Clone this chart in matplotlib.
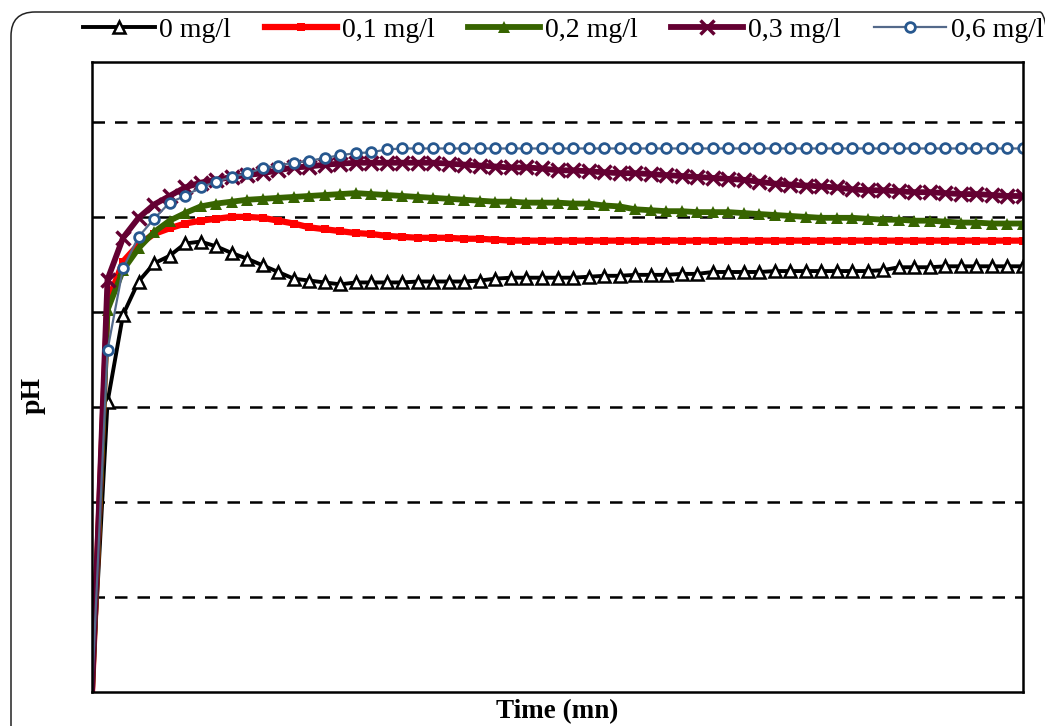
import matplotlib
matplotlib.use("Agg")
import matplotlib.pyplot as plt
from matplotlib.patches import FancyBboxPatch
from matplotlib.transforms import IdentityTransform

# ---- data (time in minutes, pH) ----
time_mn = list(range(0, 61))

ph_0 = [4.00, 7.05, 7.97, 8.32, 8.51, 8.59, 8.72, 8.74, 8.69, 8.62,
        8.56, 8.49, 8.42, 8.35, 8.33, 8.31, 8.29, 8.31, 8.31, 8.31,
        8.31, 8.32, 8.32, 8.32, 8.32, 8.33, 8.35, 8.36, 8.36, 8.36,
        8.36, 8.36, 8.37, 8.38, 8.38, 8.39, 8.39, 8.39, 8.40, 8.40,
        8.42, 8.42, 8.42, 8.42, 8.43, 8.43, 8.43, 8.43, 8.43, 8.43,
        8.43, 8.44, 8.47, 8.47, 8.47, 8.48, 8.48, 8.48, 8.48, 8.48, 8.48]

ph_01 = [4.00, 8.10, 8.53, 8.71, 8.82, 8.88, 8.93, 8.96, 8.98, 9.00,
         9.00, 8.99, 8.96, 8.93, 8.89, 8.87, 8.85, 8.83, 8.82, 8.80,
         8.79, 8.78, 8.78, 8.78, 8.77, 8.77, 8.76, 8.75, 8.75, 8.75,
         8.75, 8.75, 8.75, 8.75, 8.75, 8.75, 8.75, 8.75, 8.75, 8.75,
         8.75, 8.75, 8.75, 8.75, 8.75, 8.75, 8.75, 8.75, 8.75, 8.75,
         8.75, 8.75, 8.75, 8.75, 8.75, 8.75, 8.75, 8.75, 8.75, 8.75, 8.75]

ph_02 = [4.00, 8.02, 8.44, 8.67, 8.84, 8.96, 9.04, 9.11, 9.14, 9.16,
         9.18, 9.19, 9.20, 9.21, 9.22, 9.23, 9.24, 9.25, 9.24, 9.23,
         9.22, 9.21, 9.20, 9.19, 9.18, 9.17, 9.16, 9.16, 9.15, 9.15,
         9.15, 9.14, 9.14, 9.12, 9.11, 9.08, 9.07, 9.06, 9.06, 9.05,
         9.05, 9.05, 9.04, 9.03, 9.02, 9.01, 9.00, 8.99, 8.99, 8.99,
         8.98, 8.97, 8.97, 8.96, 8.96, 8.95, 8.94, 8.94, 8.93, 8.93, 8.93]

ph_03 = [4.00, 8.34, 8.78, 8.99, 9.13, 9.22, 9.31, 9.36, 9.39, 9.42,
         9.44, 9.46, 9.49, 9.52, 9.53, 9.55, 9.56, 9.57, 9.57, 9.57,
         9.57, 9.57, 9.57, 9.56, 9.55, 9.54, 9.53, 9.52, 9.52, 9.51,
         9.49, 9.49, 9.48, 9.47, 9.46, 9.46, 9.45, 9.44, 9.43, 9.42,
         9.41, 9.40, 9.39, 9.37, 9.35, 9.34, 9.33, 9.32, 9.31, 9.29,
         9.28, 9.28, 9.27, 9.26, 9.26, 9.25, 9.24, 9.24, 9.23, 9.22, 9.22]

ph_06 = [4.00, 7.60, 8.46, 8.79, 8.98, 9.15, 9.22, 9.31, 9.37, 9.42,
         9.46, 9.51, 9.54, 9.57, 9.59, 9.62, 9.65, 9.67, 9.68, 9.71,
         9.72, 9.72, 9.72, 9.72, 9.72, 9.72, 9.72, 9.72, 9.72, 9.72,
         9.72, 9.72, 9.72, 9.72, 9.72, 9.72, 9.72, 9.72, 9.72, 9.72,
         9.72, 9.72, 9.72, 9.72, 9.72, 9.72, 9.72, 9.72, 9.72, 9.72,
         9.72, 9.72, 9.72, 9.72, 9.72, 9.72, 9.72, 9.72, 9.72, 9.72, 9.72]

labels = ["0 mg/l", "0,1 mg/l", "0,2 mg/l", "0,3 mg/l", "0,6 mg/l"]
grid_levels = [5, 6, 7, 8, 9, 10]

# ---- figure ----
W, H = 1045, 726
fig = plt.figure(figsize=(W / 100, H / 100), dpi=100)
plt.rcParams['font.family'] = ['Liberation Serif', 'DejaVu Serif']

# rounded chart-area border (pixel coordinates)
border = FancyBboxPatch((11, -60), 1064 - 11, (H - 12) + 60,
                        boxstyle="round,pad=0,rounding_size=24",
                        transform=IdentityTransform(), fill=False,
                        edgecolor='#222222', linewidth=1.1, zorder=0)
fig.patches.append(border)

ax = fig.add_axes([92 / W, (H - 692) / H, (1023 - 92) / W, (692 - 62) / H])
ax.set_xlim(0, 60)
ax.set_ylim(4, 10.63)

for g in grid_levels:
    ax.axhline(g, color='black', lw=1.8, ls=(0, (5.0, 4.0)), zorder=1)

styles = [
    dict(color='black', lw=2.8, marker='^', ms=9, mfc='white', mec='black', mew=1.8),
    dict(color='#FF0000', lw=4.5, marker='s', ms=6, mfc='#FF0000', mec='#FF0000', mew=0),
    dict(color='#376400', lw=4.2, marker='^', ms=9, mfc='#376400', mec='#376400', mew=0),
    dict(color='#640032', lw=4.2, marker='x', ms=10, mfc='#640032', mec='#640032', mew=2.5),
    dict(color='#53698A', lw=1.6, marker='o', ms=7, mfc='white', mec='#27588F', mew=2.0),
]
series = [ph_0, ph_01, ph_02, ph_03, ph_06]
handles = []
for i, (vals, st, lab) in enumerate(zip(series, styles, labels)):
    h, = ax.plot(time_mn, vals, label=lab, markevery=slice(1, None),
                 zorder=3 + i, **st)
    handles.append(h)

for s in ax.spines.values():
    s.set_linewidth(1.8)
    s.set_color('black')
    s.set_zorder(20)
ax.set_xticks([])
ax.set_yticks([])

fig.text(557 / W, 1 - 712 / H, "Time (mn)", ha='center', va='center',
         fontsize=19.5, fontweight='bold')
fig.text(33 / W, 1 - 395 / H, "pH", ha='center', va='center',
         fontsize=20, fontweight='bold', rotation=90)

leg = fig.legend(handles=handles, labels=labels, loc='center left',
                 bbox_to_anchor=(83 / W, 1 - 30 / H), ncol=5, frameon=False,
                 fontsize=20, handlelength=2.6, handletextpad=0.15,
                 columnspacing=1.22, borderaxespad=0, borderpad=0,
                 markerscale=1.0)

fig.savefig("out.png", dpi=100)
